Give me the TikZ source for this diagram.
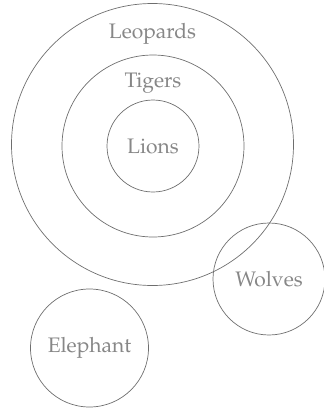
\documentclass[tikz,border=0pt]{standalone}
\usepackage[T1]{fontenc}
\usepackage{mathpazo}
\usepackage{tikz}
\usetikzlibrary{positioning}
\definecolor{RingGray}{RGB}{110,110,110}
\definecolor{TextGray}{RGB}{135,135,135}

\begin{document}
\begin{tikzpicture}[x=0.5pt, y=-0.5pt,
    ring/.style={circle, draw=RingGray, line width=0.35pt, inner sep=0pt, text=TextGray, font=\fontsize{10.5}{12}\selectfont},
    lbl/.style={text=TextGray, font=\fontsize{10.5}{12}\selectfont, inner sep=0pt}]
                \useasboundingbox (0,0) rectangle (324,409);
                % Kreise
                \node[ring, minimum size=141pt] (leo) at (152.5,144.5) {};
                \node[ring, minimum size=91pt] (tig) at (153,146) {};
                \node[ring, minimum size=46pt] (lio) at (153,146) {Lions};
                \node[ring, minimum size=56pt] (wol) at (269,279) {Wolves};
                \node[ring, minimum size=59pt] (ele) at (89.5,348) {Elephant};
                
                % Beschriftungen
                \node[lbl, below=10pt of leo.north] (leotxt) {Leopards};
                \node[lbl, below=9pt of tig.north] (tigtxt) {Tigers};
            \end{tikzpicture}
\end{document}
